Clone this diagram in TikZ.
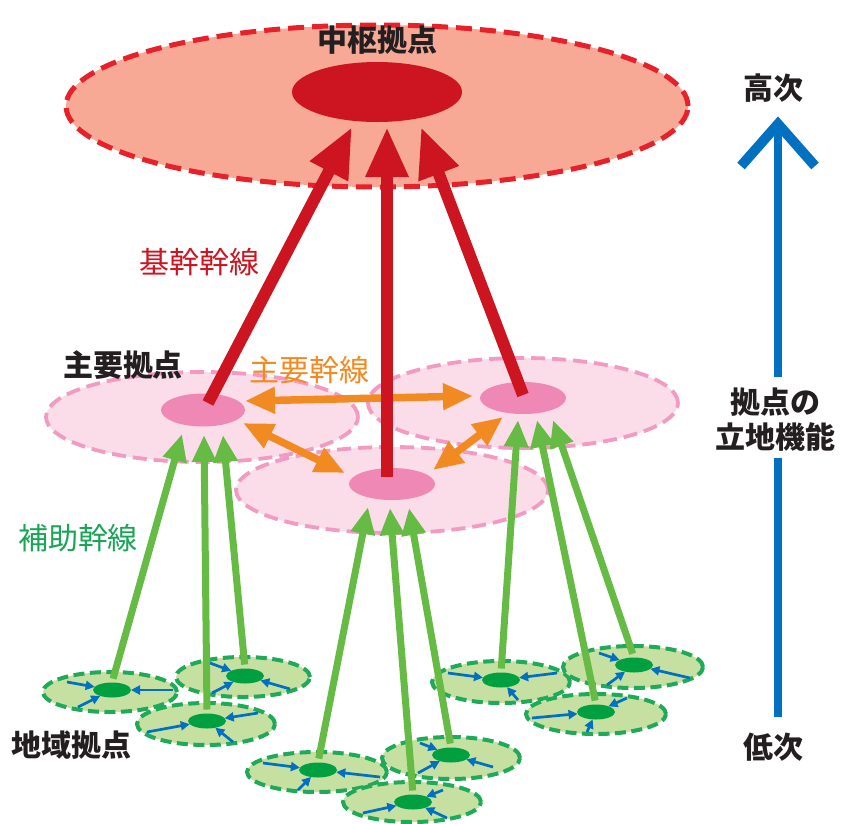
\documentclass[tikz,border=0pt]{standalone}
\usepackage{fontspec}
\newfontfamily\jp{Noto Sans CJK JP}
\usetikzlibrary{arrows.meta,shapes.geometric}
\definecolor{topfill}{HTML}{F8A996}
\definecolor{topline}{HTML}{E8202A}
\definecolor{redc}{HTML}{CC1520}
\definecolor{pinkfill}{HTML}{FBDDE9}
\definecolor{pinkline}{HTML}{F29AC2}
\definecolor{pinkin}{HTML}{F088B5}
\definecolor{orangec}{HTML}{F28A22}
\definecolor{gfill}{HTML}{C5E0A0}
\definecolor{gline}{HTML}{1FAA5A}
\definecolor{gin}{HTML}{00A040}
\definecolor{garr}{HTML}{66BB44}
\definecolor{gtext}{HTML}{1AA455}
\definecolor{bluec}{HTML}{0070C0}
\definecolor{blk}{HTML}{231F20}
\tikzset{
  ell/.style={ellipse, inner sep=0pt, outer sep=0pt},
  lbl/.style={font=\jp\fontsize{30}{34}\selectfont, inner sep=0pt},
  blbl/.style={lbl, font=\jp\bfseries\fontsize{30}{34}\selectfont, text=blk},
  redarr/.style={draw=redc, line width=12pt, -{Triangle[length=50pt,width=40pt]}},
  orarr/.style={draw=orangec, line width=7.5pt, {Triangle[length=30pt,width=25pt]}-{Triangle[length=30pt,width=25pt]}},
  grarr/.style={draw=garr, line width=7pt, shorten <=4pt, -{Triangle[length=27pt,width=23pt]}},
  blarr/.style={draw=bluec, line width=2.7pt, -{Triangle[length=9pt,width=9pt]}},
  pinkdash/.style={draw=pinkline, line width=3.8pt, dash pattern=on 14pt off 7pt},
  gdash/.style={draw=gline, line width=4pt, dash pattern=on 11pt off 5.5pt},
}
\newcommand{\locnode}[4]{%
  \node[ell, fill=gfill, gdash, minimum width=#3, minimum height=#4] (#1o) at #2 {};}
\begin{document}
\begin{tikzpicture}[x=1pt,y=-1pt]
\useasboundingbox (0,0) rectangle (849,823);
\fill[white] (0,0) rectangle (849,823);

% top central area
\node[ell, fill=topfill, draw=topline, line width=5pt, dash pattern=on 16pt off 8pt,
      minimum width=622pt, minimum height=162pt] (Top) at (377,106) {};
\node[ell, fill=redc, minimum width=170pt, minimum height=60pt] (TopIn) at (377,92) {};

% main areas
\node[ell, fill=pinkfill, minimum width=312pt, minimum height=90pt] (PL) at (202,417) {};
\node[ell, fill=pinkfill, minimum width=310pt, minimum height=90pt] (PR) at (523,403) {};
\node[ell, fill=pinkfill, minimum width=312pt, minimum height=86pt] (PM) at (392,490) {};
\draw[pinkdash] (PL.center) ellipse [x radius=156pt, y radius=45pt];
\draw[pinkdash] (PR.center) ellipse [x radius=155pt, y radius=45pt];
\draw[pinkdash] (PM.center) ellipse [x radius=156pt, y radius=43pt];
\node[ell, fill=pinkin, minimum width=84pt, minimum height=33pt] (PLi) at (203,410) {};
\node[ell, fill=pinkin, minimum width=86pt, minimum height=32pt] (PRi) at (523,398) {};
\node[ell, fill=pinkin, minimum width=86pt, minimum height=32pt] (PMi) at (392,484) {};

% orange trunk lines
\coordinate (oa1) at (245,401); \coordinate (oa2) at (473,396);
\coordinate (ob1) at (243,423); \coordinate (ob2) at (345,473);
\coordinate (oc1) at (503,417); \coordinate (oc2) at (433,470);
\draw[orarr] (oa1) -- (oa2);
\draw[orarr] (ob1) -- (ob2);
\draw[orarr] (oc1) -- (oc2);

% red trunk lines
\coordinate (rsL) at (208,403); \coordinate (rtL) at (352,127);
\coordinate (rsM) at (387,477); \coordinate (rtM) at (387,127);
\coordinate (rsR) at (523,395); \coordinate (rtR) at (421,127);
\draw[redarr] (rsL) -- (rtL);
\draw[redarr] (rsM) -- (rtM);
\draw[redarr] (rsR) -- (rtR);

% local nodes
\locnode{L1}{(110,692)}{134pt}{40pt}
\locnode{L2}{(243,677)}{134pt}{40pt}
\locnode{L3}{(206,724)}{138pt}{42pt}
\locnode{L4}{(317,772)}{140pt}{40pt}
\locnode{L5}{(451,758)}{138pt}{42pt}
\locnode{L6}{(412,802)}{138pt}{40pt}
\locnode{L7}{(501,682)}{138pt}{42pt}
\locnode{L8}{(633,667)}{140pt}{42pt}
\locnode{L9}{(596,714)}{140pt}{40pt}
\foreach \n/\p in {L1/{(112,690)},L2/{(245,676)},L3/{(207,721)},L4/{(318,770)},L5/{(451,755)},L6/{(413,802)},L7/{(501,680)},L8/{(634,665)},L9/{(596,712)}}
  \node[ell, fill=gin, minimum width=38pt, minimum height=15pt] (\n i) at \p {};

% blue local flows
\foreach \n/\a/\b/\c in {
  L1/{(67,682)}/{(173,690)}/{(78,707)},
  L2/{(210,663)}/{(212,693)}/{(290,689)},
  L3/{(147,732)}/{(258,713)}/{(233,742)},
  L4/{(263,763)}/{(380,777)}/{(298,790)},
  L5/{(420,743)}/{(418,773)}/{(493,767)},
  L6/{(363,813)}/{(443,790)}/{(447,818)},
  L7/{(448,673)}/{(557,673)}/{(518,700)},
  L8/{(599,653)}/{(607,685)}/{(690,678)},
  L9/{(532,718)}/{(627,698)}/{(587,732)}}{
  \draw[blarr] \a -- (\n i);
  \draw[blarr] \b -- (\n i);
  \draw[blarr] \c -- (\n i);
}

% green feeder lines
\coordinate (g1) at (182,434); \coordinate (g2) at (204,435); \coordinate (g3) at (223,435);
\coordinate (g4) at (368,507); \coordinate (g5) at (390,508); \coordinate (g6) at (409,508);
\coordinate (g7) at (518,420); \coordinate (g8) at (537,420); \coordinate (g9) at (553,420);
\draw[grarr] (L1i.north) -- (g1);
\draw[grarr] (L3i.north) -- (g2);
\draw[grarr] (L2i.north) -- (g3);
\draw[grarr] (L4i.north) -- (g4);
\draw[grarr] (L6i.north) -- (g5);
\draw[grarr] (L5i.north) -- (g6);
\draw[grarr] (L7i.north) -- (g7);
\draw[grarr] (L9i.north) -- (g8);
\draw[grarr] (L8i.north) -- (g9);

% labels
\node[blbl] (tTop) at (377,40) {中枢拠点};
\node[lbl, text=redc] (tKikan) at (199,262) {基幹幹線};
\node[blbl] (tShuyo) at (123,365) {主要拠点};
\node[lbl, text=orangec] (tShuKan) at (309,370) {主要幹線};
\node[lbl, text=gtext] (tHojo) at (78,538) {補助幹線};
\node[blbl] (tChiiki) at (72,745) {地域拠点};

% right axis
\node[blbl] (tHigh) at (773,88) {高次};
\node[blbl] (tMid1) at (775,402) {拠点の};
\node[blbl] (tMid2) at (775,437) {立地機能};
\node[blbl] (tLow) at (773,747) {低次};
\coordinate (ax1) at (778,129); \coordinate (ax2) at (778,377);
\coordinate (ax3) at (778,458); \coordinate (ax4) at (778,717);
\coordinate (chL) at (741,166); \coordinate (chR) at (815,166);
\draw[bluec, line width=8pt] (ax1) -- (ax2);
\draw[bluec, line width=8pt] (ax3) -- (ax4);
\draw[bluec, line width=10pt, miter limit=10] (chL) -- (778,124) -- (chR);
\end{tikzpicture}
\end{document}
